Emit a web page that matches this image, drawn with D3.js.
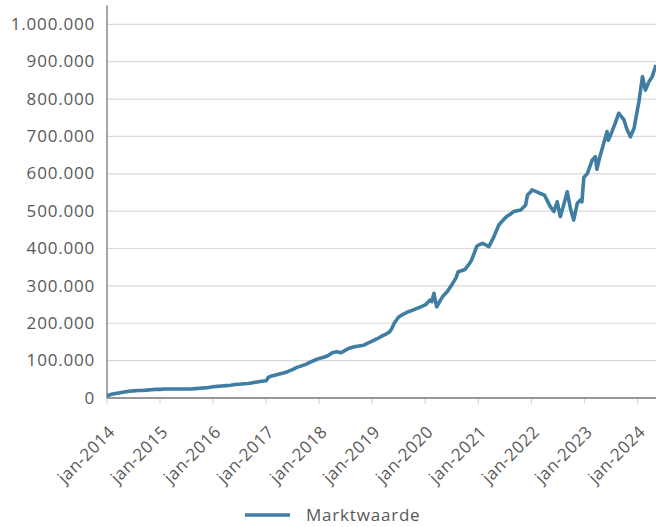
<!DOCTYPE html>
<html>
<head>
<meta charset="utf-8">
<script src="https://cdn.jsdelivr.net/npm/d3@7"></script>
<style>
  body { margin: 0; background: #fff; }
  text { font-family: "Open Sans", sans-serif; fill: #595959; }
</style>
</head>
<body>
<div id="chart"></div>
<script>
// Marktwaarde (EUR)
var dates = [
  "2014-01-01","2014-02-01","2014-03-01","2014-04-01","2014-05-01","2014-06-01","2014-07-01","2014-08-01","2014-09-01","2014-10-01","2014-11-01","2014-12-01",
  "2015-01-01","2015-02-01","2015-03-01","2015-04-01","2015-05-01","2015-06-01","2015-07-01","2015-08-01","2015-09-01","2015-10-01","2015-11-01","2015-12-01",
  "2016-01-01","2016-02-01","2016-03-01","2016-04-01","2016-05-01","2016-06-01","2016-07-01","2016-08-01","2016-09-01","2016-10-01","2016-11-01","2016-12-01",
  "2017-01-01","2017-01-15","2017-02-01","2017-03-01","2017-04-01","2017-05-01","2017-06-01","2017-07-01","2017-08-01","2017-09-01","2017-10-01","2017-11-01","2017-12-01",
  "2018-01-01","2018-02-01","2018-03-01","2018-04-01","2018-05-01","2018-06-01","2018-07-01","2018-08-01","2018-09-01","2018-10-01","2018-11-01","2018-12-01",
  "2019-01-01","2019-02-01","2019-03-01","2019-04-01","2019-05-01","2019-05-15","2019-06-01","2019-07-01","2019-08-01","2019-09-01","2019-10-01","2019-11-01","2019-12-01",
  "2020-01-01","2020-01-15","2020-02-01","2020-02-15","2020-03-01","2020-03-10","2020-03-20","2020-04-01","2020-04-15","2020-05-01","2020-06-01","2020-07-01","2020-08-01","2020-08-15","2020-09-01","2020-10-01","2020-11-01","2020-11-15","2020-12-01","2020-12-20",
  "2021-01-01","2021-01-30","2021-03-14","2021-04-16","2021-05-22","2021-06-20","2021-07-19","2021-08-10","2021-09-01","2021-10-19","2021-11-22","2021-12-05","2021-12-28",
  "2022-01-05","2022-02-28","2022-04-01","2022-05-11","2022-06-05","2022-06-28","2022-07-19","2022-08-11","2022-09-05","2022-09-27","2022-10-19","2022-11-13","2022-12-05","2022-12-15","2022-12-28",
  "2023-01-22","2023-02-24","2023-03-17","2023-03-28","2023-04-15","2023-05-04","2023-06-06","2023-06-15","2023-07-01","2023-08-01","2023-08-25","2023-10-01","2023-10-20","2023-11-14","2023-12-09",
  "2024-01-11","2024-02-05","2024-02-25","2024-03-20","2024-04-12","2024-05-08"
];
var values = [
  6000,10000,12000,14000,16000,18000,19000,20000,20000,21000,22000,23000,
  23000,24000,24000,24000,24000,24000,24000,24000,25000,26000,27000,28000,
  30000,31000,32000,33000,34000,36000,37000,38000,39000,41000,43000,45000,
  46000,55000,58000,61000,64000,67000,71000,76000,82000,86000,90000,96000,101000,
  106000,109000,113000,121000,124000,121000,128000,134000,137000,139000,141000,147000,
  152000,158000,164000,170000,177000,185000,200000,216000,224000,230000,234000,239000,244000,
  249000,254000,262000,258000,280000,262000,244000,252000,262000,272000,285000,302000,322000,338000,340000,344000,360000,369000,385000,405000,
  409000,414000,405000,430000,463000,476000,487000,492000,499000,503000,516000,543000,552000,
  557000,548000,543000,512000,499000,525000,485000,516000,552000,507000,476000,521000,530000,525000,590000,
  601000,637000,646000,612000,642000,668000,713000,690000,704000,735000,762000,744000,720000,699000,722000,
  792000,860000,824000,846000,860000,891000
];
var yTicks = [0,100000,200000,300000,400000,500000,600000,700000,800000,900000,1000000];
var xTickYears = [2014,2015,2016,2017,2018,2019,2020,2021,2022,2023,2024];
var seriesName = "Marktwaarde";

var lineColor = "#3f7ea2";
var width = 656, height = 527;

var nl = d3.formatLocale({decimal: ",", thousands: ".", grouping: [3], currency: ["€ ", ""]});
var fmtY = nl.format(",.0f");
var nlTime = d3.timeFormatLocale({
  dateTime: "%a %e %B %Y %X", date: "%d-%m-%Y", time: "%H:%M:%S", periods: ["AM","PM"],
  days: ["zondag","maandag","dinsdag","woensdag","donderdag","vrijdag","zaterdag"],
  shortDays: ["zo","ma","di","wo","do","vr","za"],
  months: ["januari","februari","maart","april","mei","juni","juli","augustus","september","oktober","november","december"],
  shortMonths: ["jan","feb","mrt","apr","mei","jun","jul","aug","sep","okt","nov","dec"]
});
var fmtX = nlTime.format("%b-%Y");

var parse = d3.timeParse("%Y-%m-%d");
var data = dates.map(function(d, i) { return {date: parse(d), value: values[i]}; });

var svg = d3.select("#chart").append("svg")
  .attr("width", width)
  .attr("height", height);

var xScale = d3.scaleTime()
  .domain([parse("2014-01-01"), data[data.length - 1].date])
  .range([107, 656]);
var yScale = d3.scaleLinear()
  .domain([0, 1000000])
  .range([398, 24.3]);

// gridlines
svg.append("g")
  .selectAll("line")
  .data(yTicks.slice(1))
  .enter().append("line")
  .attr("x1", xScale.range()[0])
  .attr("x2", xScale.range()[1])
  .attr("y1", function(d) { return yScale(d); })
  .attr("y2", function(d) { return yScale(d); })
  .style("stroke", "#d9d9d9")
  .style("stroke-width", 1.2);

// y labels
svg.append("g")
  .selectAll("text")
  .data(yTicks)
  .enter().append("text")
  .attr("x", 95)
  .attr("y", function(d) { return yScale(d); })
  .attr("dy", "0.33em")
  .style("text-anchor", "end")
  .style("font-size", "17px")
  .style("letter-spacing", "0.8px")
  .text(function(d) { return fmtY(d); });

// x tick marks
var xTickDates = xTickYears.map(function(y) { return new Date(y, 0, 1); });
svg.append("g")
  .selectAll("line")
  .data(xTickDates)
  .enter().append("line")
  .attr("x1", function(d) { return xScale(d); })
  .attr("x2", function(d) { return xScale(d); })
  .attr("y1", yScale(0))
  .attr("y2", yScale(0) + 6)
  .style("stroke", "#d9d9d9")
  .style("stroke-width", 1.2);

// x labels
svg.append("g")
  .selectAll("text")
  .data(xTickDates)
  .enter().append("text")
  .attr("transform", function(d) { return "translate(" + (xScale(d) + 9) + ",433) rotate(-45)"; })
  .style("text-anchor", "end")
  .style("font-size", "17px")
  .style("letter-spacing", "0.5px")
  .text(function(d) { return fmtX(d); });

// axis lines
svg.append("line")
  .attr("x1", xScale.range()[0]).attr("x2", xScale.range()[1])
  .attr("y1", yScale(0)).attr("y2", yScale(0))
  .style("stroke", "#767676").style("stroke-width", 1.3);
svg.append("line")
  .attr("x1", xScale.range()[0]).attr("x2", xScale.range()[0])
  .attr("y1", yScale(1050000)).attr("y2", yScale(0))
  .style("stroke", "#767676").style("stroke-width", 1.3);

// the line
var line = d3.line()
  .x(function(d) { return xScale(d.date); })
  .y(function(d) { return yScale(d.value); });

svg.append("path")
  .datum(data)
  .attr("d", line)
  .style("fill", "none")
  .style("stroke", lineColor)
  .style("stroke-width", 3.6)
  .style("stroke-linejoin", "round");

// legend
var legend = svg.append("g").attr("transform", "translate(245,515)");
legend.append("line")
  .attr("x1", 0).attr("x2", 45)
  .style("stroke", lineColor)
  .style("stroke-width", 3.6);
legend.append("text")
  .attr("x", 61)
  .attr("dy", "0.33em")
  .style("font-size", "17px")
  .style("letter-spacing", "0.8px")
  .text(seriesName);
</script>
</body>
</html>
